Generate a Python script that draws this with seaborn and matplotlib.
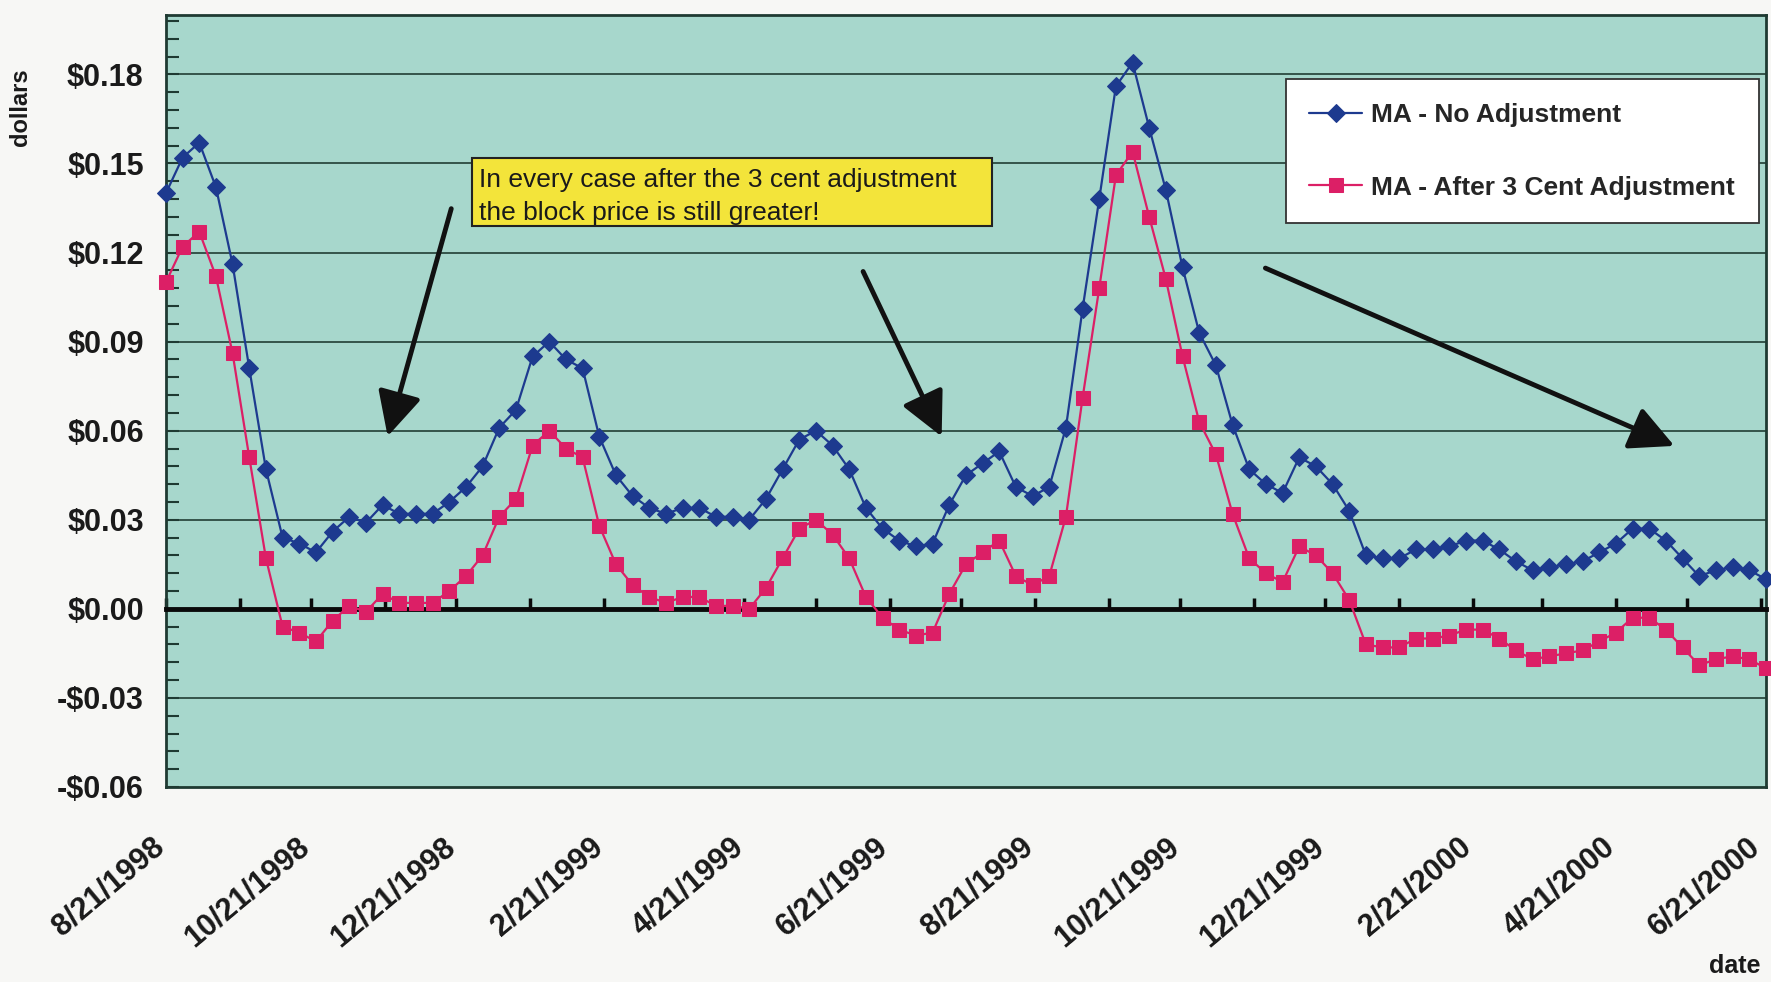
import matplotlib
matplotlib.use("Agg")
import matplotlib.pyplot as plt
import matplotlib.dates as mdates
from matplotlib.ticker import MultipleLocator, FuncFormatter
from matplotlib.patches import Rectangle
import pandas as pd
import seaborn as sns

sns.set_style("ticks")
plt.rcParams['font.family'] = ['Liberation Sans', 'DejaVu Sans']

# weekly moving averages, first week 8/21/1998
start_date = "1998-08-21"
n_weeks = 97

no_adjustment = [
    0.140, 0.152, 0.157, 0.142, 0.116, 0.081, 0.047, 0.024, 0.022, 0.019,
    0.026, 0.031, 0.029, 0.035, 0.032, 0.032, 0.032, 0.036, 0.041, 0.048,
    0.061, 0.067, 0.085, 0.090, 0.084, 0.081, 0.058, 0.045, 0.038, 0.034,
    0.032, 0.034, 0.034, 0.031, 0.031, 0.030, 0.037, 0.047, 0.057, 0.060,
    0.055, 0.047, 0.034, 0.027, 0.023, 0.021, 0.022, 0.035, 0.045, 0.049,
    0.053, 0.041, 0.038, 0.041, 0.061, 0.101, 0.138, 0.176, 0.184, 0.162,
    0.141, 0.115, 0.093, 0.082, 0.062, 0.047, 0.042, 0.039, 0.051, 0.048,
    0.042, 0.033, 0.018, 0.017, 0.017, 0.020, 0.020, 0.021, 0.023, 0.023,
    0.020, 0.016, 0.013, 0.014, 0.015, 0.016, 0.019, 0.022, 0.027, 0.027,
    0.023, 0.017, 0.011, 0.013, 0.014, 0.013, 0.010,
]

after_adjustment = [
    0.110, 0.122, 0.127, 0.112, 0.086, 0.051, 0.017, -0.006, -0.008, -0.011,
    -0.004, 0.001, -0.001, 0.005, 0.002, 0.002, 0.002, 0.006, 0.011, 0.018,
    0.031, 0.037, 0.055, 0.060, 0.054, 0.051, 0.028, 0.015, 0.008, 0.004,
    0.002, 0.004, 0.004, 0.001, 0.001, 0.000, 0.007, 0.017, 0.027, 0.030,
    0.025, 0.017, 0.004, -0.003, -0.007, -0.009, -0.008, 0.005, 0.015, 0.019,
    0.023, 0.011, 0.008, 0.011, 0.031, 0.071, 0.108, 0.146, 0.154, 0.132,
    0.111, 0.085, 0.063, 0.052, 0.032, 0.017, 0.012, 0.009, 0.021, 0.018,
    0.012, 0.003, -0.012, -0.013, -0.013, -0.010, -0.010, -0.009, -0.007, -0.007,
    -0.010, -0.014, -0.017, -0.016, -0.015, -0.014, -0.011, -0.008, -0.003, -0.003,
    -0.007, -0.013, -0.019, -0.017, -0.016, -0.017, -0.020,
]

series_names = ["MA - No Adjustment", "MA - After 3 Cent Adjustment"]
note_text = "In every case after the 3 cent adjustment\nthe block price is still greater!"

blue = '#1d3a8f'
pink = '#dc1f66'
frame = '#1f3a32'


def money(v, pos):
    v = round(v, 2)
    if v < 0:
        return f"-${-v:.2f}"
    return f"${abs(v):.2f}"


def date_label(v, pos):
    d = mdates.num2date(v)
    return f"{d.month}/{d.day}/{d.year}"


def main():
    dates = pd.date_range(start_date, periods=n_weeks, freq="7D")
    df = pd.DataFrame({"date": dates,
                       series_names[0]: no_adjustment,
                       series_names[1]: after_adjustment})

    fig = plt.figure(figsize=(17.71, 9.82), dpi=100, facecolor='#f7f7f5')
    ax = fig.add_axes([0.0937, 0.1986, 0.9034, 0.7861])
    ax.set_facecolor('#a7d7cc')

    sns.lineplot(data=df, x="date", y=series_names[0], ax=ax, color=blue,
                 marker='D', markersize=9, markeredgecolor=blue, linewidth=1.6,
                 label=series_names[0], clip_on=False, zorder=4)
    sns.lineplot(data=df, x="date", y=series_names[1], ax=ax, color=pink,
                 marker='s', markersize=10.5, markeredgecolor=pink, linewidth=1.6,
                 label=series_names[1], clip_on=False, zorder=4)

    ax.set_xlim(dates[0], dates[-1])
    ax.set_ylim(-0.06, 0.20)
    ax.set_xlabel("")
    ax.set_ylabel("")

    # y axis
    ax.yaxis.set_major_locator(MultipleLocator(0.03))
    ax.yaxis.set_minor_locator(MultipleLocator(0.006))
    ax.yaxis.set_major_formatter(FuncFormatter(money))
    ax.tick_params(axis='y', which='both', direction='in', color=frame,
                   width=1.5, length=9, pad=16)
    ax.tick_params(axis='y', which='major', labelsize=22, labelcolor='#1a1a1a')
    ax.yaxis.grid(True, color='#2b4a40', linewidth=1.3)
    ax.xaxis.grid(False)

    # zero line carries the monthly ticks
    ax.spines['bottom'].set_position(('data', 0))
    ax.spines['bottom'].set_linewidth(3.5)
    ax.spines['bottom'].set_color('#0a0a0a')
    ax.spines['bottom'].set_zorder(3)
    ax.xaxis.set_major_locator(mdates.MonthLocator(bymonthday=21))
    ax.tick_params(axis='x', which='both', direction='in', length=8, width=2.5,
                   color='#0a0a0a', labelbottom=False)
    for side in ['top', 'left', 'right']:
        ax.spines[side].set_visible(True)
        ax.spines[side].set_linewidth(2)
        ax.spines[side].set_color(frame)

    # date labels under the frame
    sec = ax.secondary_xaxis('bottom')
    sec.xaxis.set_major_locator(mdates.MonthLocator(bymonth=(2, 4, 6, 8, 10, 12), bymonthday=21))
    sec.xaxis.set_major_formatter(FuncFormatter(date_label))
    sec.tick_params(axis='x', length=0, pad=45, labelsize=22, labelcolor='#1a1a1a')
    sec.spines['bottom'].set_linewidth(2)
    sec.spines['bottom'].set_color(frame)

    # legend
    leg = ax.legend(loc='upper right', bbox_to_anchor=(0.9956, 0.917),
                    borderaxespad=0, frameon=True, fancybox=False,
                    edgecolor='#333333', facecolor='white', framealpha=1,
                    handlelength=2.0, handletextpad=0.35, labelspacing=1.85,
                    borderpad=0.9, prop={'size': 19, 'weight': 'bold'})
    leg.get_frame().set_linewidth(1.3)
    leg.set_zorder(6)

    # yellow note
    ax.add_patch(Rectangle((0.19125, 0.7267), 0.325, 0.0881, transform=ax.transAxes,
                           facecolor='#f3e43a', edgecolor='#222222', linewidth=1.5,
                           zorder=5))
    ax.text(0.1956, 0.7650, note_text, transform=ax.transAxes, ha='left',
            va='center', fontsize=19, color='#1a1a1a', linespacing=1.5, zorder=6)

    # arrows
    arrow_kw = dict(arrowstyle='-|>,head_length=0.9,head_width=0.45', lw=3.5,
                    color='#111111', mutation_scale=30)
    for tail, head in [((0.1788, 0.7526), (0.1381, 0.4508)),
                       ((0.4350, 0.6710), (0.4856, 0.4508)),
                       ((0.6856, 0.6736), (0.9444, 0.4404))]:
        ax.annotate("", xy=head, xytext=tail, xycoords='axes fraction',
                    textcoords='axes fraction', arrowprops=arrow_kw, zorder=5)

    fig.text(21 / 1771, 1 - 107 / 982, "dollars", rotation=90, ha='center',
             va='center', fontsize=17, fontweight='bold', color='#1a1a1a')
    fig.text(0.994, 0.004, "date", ha='right', va='bottom', fontsize=18,
             fontweight='bold', color='#1a1a1a')

    # ticks exist only after a draw, style all labels then
    fig.canvas.draw()
    for lab in ax.get_yticklabels():
        lab.set_fontweight('bold')
    for lab in sec.get_xticklabels():
        lab.set_rotation(40)
        lab.set_ha('right')
        lab.set_va('baseline')
        lab.set_rotation_mode('anchor')
        lab.set_fontweight('bold')

    fig.savefig("out.png", dpi=100, facecolor=fig.get_facecolor())


if __name__ == "__main__":
    main()
